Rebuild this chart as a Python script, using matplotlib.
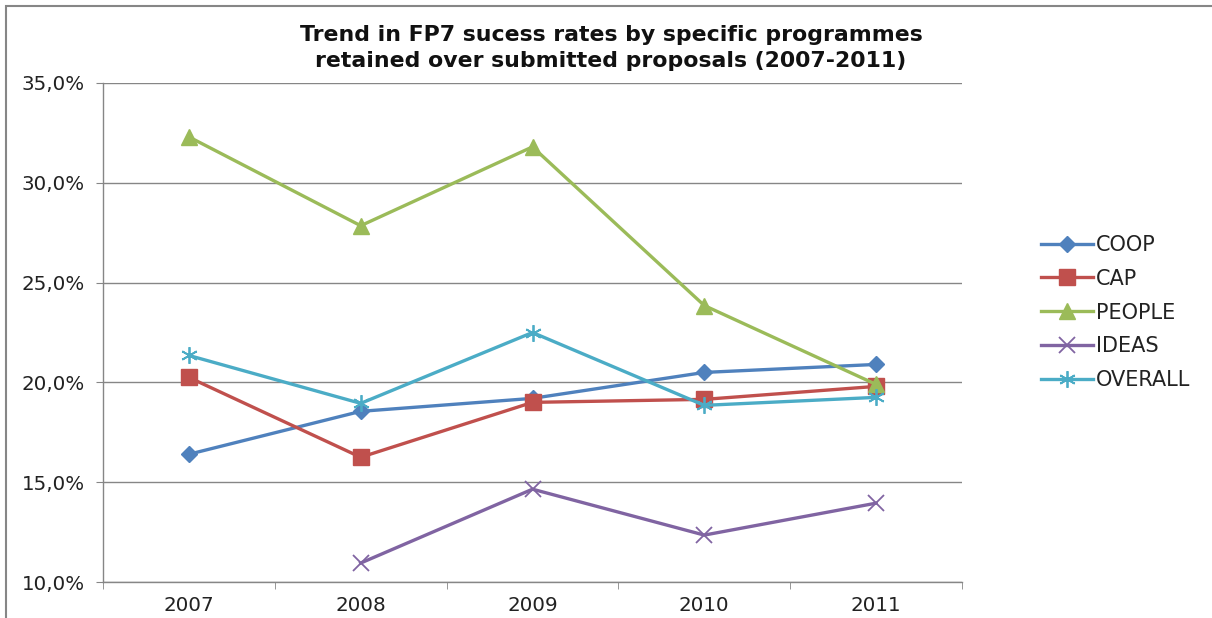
import matplotlib.pyplot as plt
from matplotlib.patches import Rectangle
from matplotlib.ticker import FuncFormatter
import numpy as np

# data (success rate, %)
years = ['2007', '2008', '2009', '2010', '2011']
coop = [16.4, 18.55, 19.2, 20.5, 20.9]
cap = [20.25, 16.25, 19.0, 19.15, 19.8]
people = [32.3, 27.85, 31.8, 23.85, 19.9]
ideas = [np.nan, 10.95, 14.65, 12.35, 13.95]
overall = [21.35, 18.95, 22.5, 18.85, 19.25]

plt.rcParams['font.family'] = ['DejaVu Sans']

fig = plt.figure(figsize=(12.12, 6.18), dpi=100)
# outer chart frame
fig.patches.append(Rectangle((6/1212, -0.1), 1.2, 1 - 6/618 + 0.1, transform=fig.transFigure,
                             fill=False, edgecolor='#868686', linewidth=1.5))

ax = fig.add_axes([103/1212, 1 - 582/618, 859/1212, 499/618])
x = np.arange(len(years))

ax.plot(x, coop, color='#4F81BD', lw=2.4, marker='D', ms=8, label='COOP')
ax.plot(x, cap, color='#C0504D', lw=2.4, marker='s', ms=11, label='CAP')
ax.plot(x, people, color='#9BBB59', lw=2.4, marker='^', ms=12, label='PEOPLE')
ax.plot(x, ideas, color='#8064A2', lw=2.4, marker='x', ms=11, mew=1.3, label='IDEAS')
ax.plot(x, overall, color='#4BACC6', lw=2.4, marker=(6, 2, 0), ms=12, mew=1.3, label='OVERALL')

ax.set_xlim(-0.5, len(years) - 0.5)
ax.set_ylim(10, 35)
ax.set_yticks(np.arange(10, 36, 5))
ax.yaxis.set_major_formatter(FuncFormatter(lambda v, p: f'{v:.1f}%'.replace('.', ',')))
ax.set_xticks(x)
ax.set_xticklabels(years)
ax.set_xticks(np.arange(-0.5, len(years), 1), minor=True)
ax.tick_params(axis='x', which='major', length=0, pad=10, labelsize=14.3, colors='#222222')
ax.tick_params(axis='x', which='minor', length=5, color='#868686')
ax.tick_params(axis='y', length=5, color='#868686', labelsize=14.3, labelcolor='#222222', pad=8)

ax.grid(axis='y', color='#868686', lw=1)
ax.set_axisbelow(True)
for s in ['top', 'right']:
    ax.spines[s].set_visible(False)
for s in ['left', 'bottom']:
    ax.spines[s].set_color('#868686')
    ax.spines[s].set_linewidth(1)

fig.text(611/1212, 1 - 48/618,
         'Trend in FP7 sucess rates by specific programmes\nretained over submitted proposals (2007-2011)',
         ha='center', va='center', fontsize=15.8, fontweight='bold', linespacing=1.35, color='#111111')

ax.legend(loc='center left', bbox_to_anchor=(1.07, 0.54), frameon=False, fontsize=15,
          handlelength=2.5, labelspacing=0.66, handletextpad=0.15, labelcolor='#222222')

fig.savefig('out.png', dpi=100)
